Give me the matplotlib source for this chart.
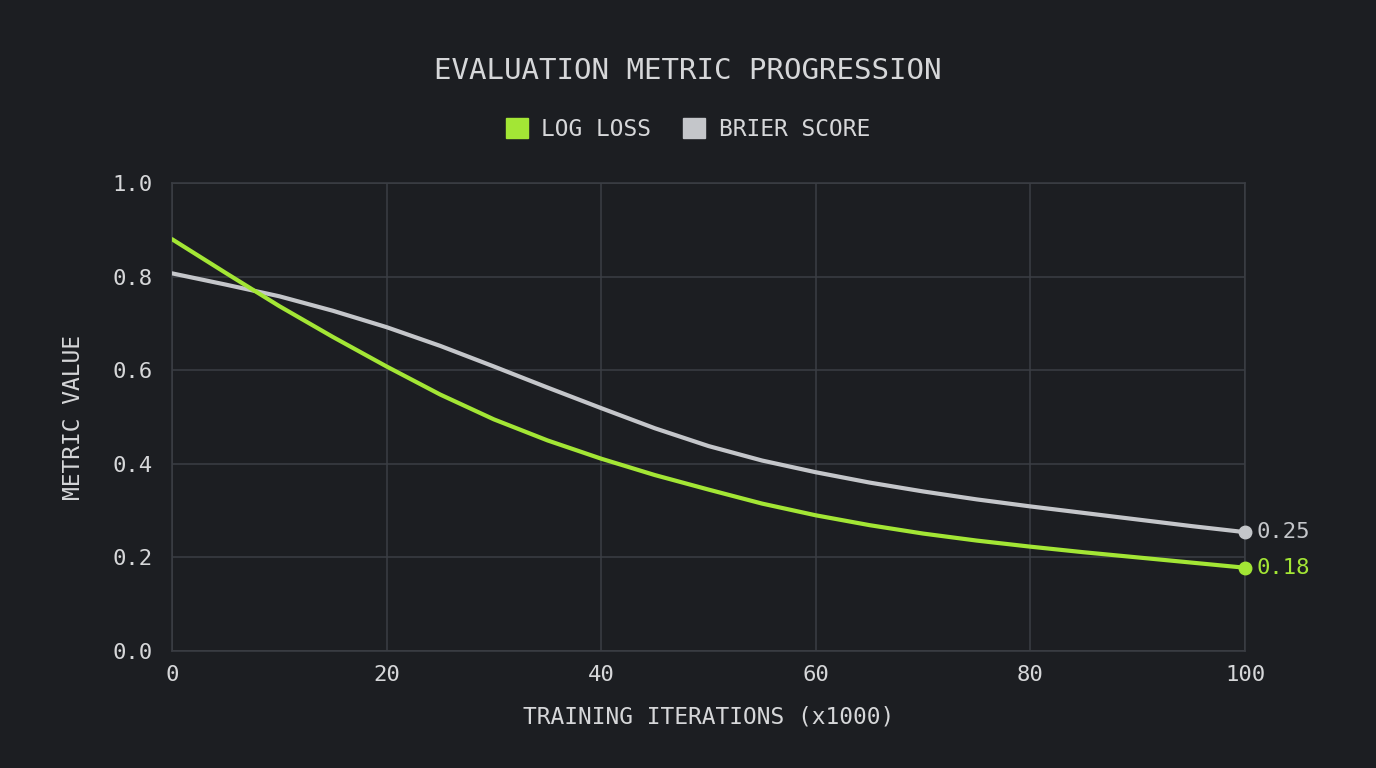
import matplotlib
matplotlib.use("Agg")
import matplotlib.pyplot as plt
from matplotlib.patches import Patch

# values
iterations = [0, 5, 10, 15, 20, 25, 30, 35, 40, 45, 50, 55, 60, 65, 70, 75, 80, 85, 90, 95, 100]
log_loss = [0.880, 0.808, 0.737, 0.671, 0.608, 0.548, 0.495, 0.450, 0.411, 0.376, 0.345, 0.315, 0.290, 0.269, 0.251, 0.236, 0.223, 0.211, 0.200, 0.189, 0.178]
brier_score = [0.807, 0.783, 0.758, 0.727, 0.692, 0.652, 0.608, 0.563, 0.519, 0.476, 0.438, 0.407, 0.382, 0.360, 0.341, 0.324, 0.309, 0.295, 0.281, 0.267, 0.254]
series_names = ["LOG LOSS", "BRIER SCORE"]
x_ticks = [0, 20, 40, 60, 80, 100]
y_ticks = [0.0, 0.2, 0.4, 0.6, 0.8, 1.0]

BG = "#1c1e22"
GREEN = "#a3e635"
GRAY = "#c4c6ca"
GRID = "#3b3e44"
TEXT = "#d6d7d9"

plt.rcParams["font.family"] = ["DejaVu Sans Mono"]

fig = plt.figure(figsize=(13.76, 7.68), dpi=100, facecolor=BG)
ax = fig.add_axes([0.125, 0.1523, 0.7798, 0.6094], facecolor=BG)

ax.plot(iterations, brier_score, color=GRAY, lw=3, solid_capstyle="round",
        solid_joinstyle="round", zorder=3)
ax.plot(iterations, log_loss, color=GREEN, lw=3, solid_capstyle="round",
        solid_joinstyle="round", zorder=4)

# end markers + value labels
ax.plot(iterations[-1], brier_score[-1], "o", color=GRAY, ms=9, clip_on=False, zorder=5)
ax.plot(iterations[-1], log_loss[-1], "o", color=GREEN, ms=9, clip_on=False, zorder=6)
ax.annotate(f"{brier_score[-1]:.2f}", (iterations[-1], brier_score[-1]), xytext=(8, 0),
            textcoords="offset points", va="center", ha="left", color=GRAY, fontsize=16)
ax.annotate(f"{log_loss[-1]:.2f}", (iterations[-1], log_loss[-1]), xytext=(8, 0),
            textcoords="offset points", va="center", ha="left", color=GREEN, fontsize=16)

ax.set_xlim(0, 100)
ax.set_ylim(0, 1.0)
ax.set_xticks(x_ticks)
ax.set_yticks(y_ticks)
ax.set_xticklabels([str(t) for t in x_ticks])
ax.set_yticklabels([f"{t:.1f}" for t in y_ticks])
ax.tick_params(length=0, colors=TEXT, labelsize=16)
ax.tick_params(axis="y", pad=14)
ax.tick_params(axis="x", pad=10)
ax.grid(True, color=GRID, lw=1.1)
for s in ax.spines.values():
    s.set_color(GRID)
    s.set_linewidth(1.1)

ax.set_xlabel("TRAINING ITERATIONS (x1000)", color=TEXT, fontsize=16.5, labelpad=15)
ax.set_ylabel("METRIC VALUE", color=TEXT, fontsize=16.5, labelpad=20)

fig.text(0.5, 0.908, "EVALUATION METRIC PROGRESSION", ha="center", va="center",
         color=TEXT, fontsize=21)

handles = [Patch(facecolor=GREEN, edgecolor=GREEN), Patch(facecolor=GRAY, edgecolor=GRAY)]
leg = fig.legend(handles, series_names, loc="center", bbox_to_anchor=(0.5, 0.832), ncol=2,
                 frameon=False, fontsize=16.5, handlelength=0.95, handleheight=0.95,
                 handletextpad=0.6, columnspacing=1.4)
for t in leg.get_texts():
    t.set_color(TEXT)

fig.savefig("out.png", dpi=100, facecolor=BG)
